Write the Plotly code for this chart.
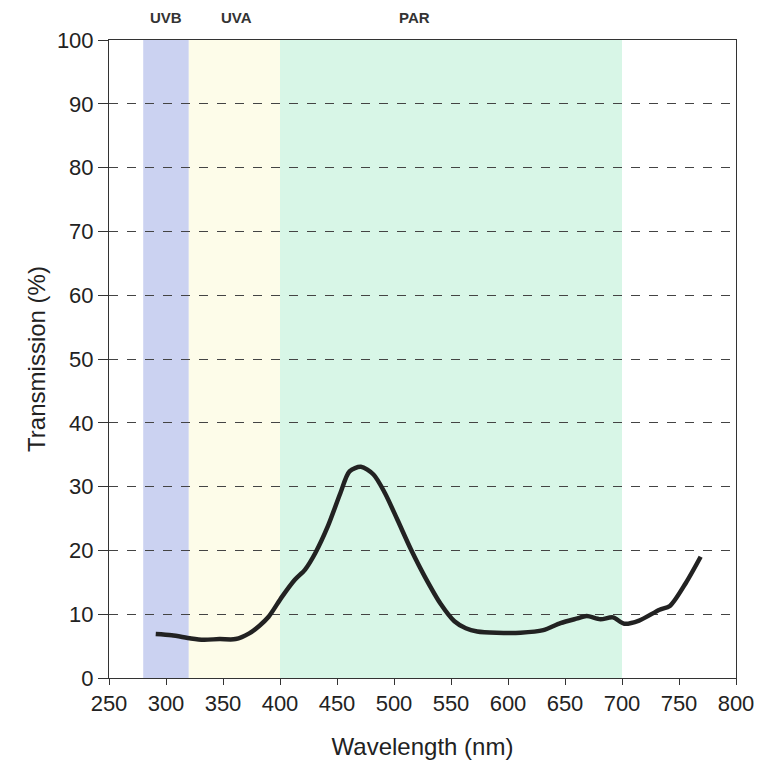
import plotly.graph_objects as go

wavelength = [291, 305, 322, 333, 347, 361, 373, 382, 390, 402, 413, 422, 431, 442, 453,
              461, 471, 482, 492, 503, 515, 527, 541, 553, 563, 573, 590, 611, 631, 646,
              660, 669, 681, 692, 702, 715, 733, 742, 756, 769]
transmission = [6.9, 6.7, 6.2, 6.0, 6.1, 6.1, 7.0, 8.2, 9.6, 12.8, 15.4, 17.0, 19.6, 23.8, 29.0,
                32.4, 33.1, 31.9, 29.0, 24.8, 20.1, 15.9, 11.6, 8.9, 7.8, 7.3, 7.1, 7.1, 7.5, 8.6,
                9.3, 9.7, 9.2, 9.5, 8.5, 9.0, 10.7, 11.3, 14.9, 19.0]

band_names = ["UVB", "UVA", "PAR"]
band_start = [280, 320, 400]
band_end = [320, 400, 700]
band_colors = ["rgba(200,208,240,0.95)", "rgba(253,252,232,0.95)", "rgba(214,245,230,0.95)"]
label_x = [300, 362, 518]

x_ticks = [250, 300, 350, 400, 450, 500, 550, 600, 650, 700, 750, 800]
y_ticks = [0, 10, 20, 30, 40, 50, 60, 70, 80, 90, 100]

fig = go.Figure()

for s, e, c in zip(band_start, band_end, band_colors):
    fig.add_vrect(x0=s, x1=e, y0=0, y1=1, fillcolor=c, line_width=0, layer="below")

for name, lx in zip(band_names, label_x):
    fig.add_annotation(x=lx, y=1.0, yref="paper", yanchor="middle", yshift=23,
                       text="<b>" + name + "</b>", showarrow=False,
                       font=dict(family="Liberation Sans, Arial", size=15, color="#333"))

fig.add_trace(go.Scatter(x=wavelength, y=transmission, mode="lines",
                         line=dict(color="#222222", width=4.5, shape="spline", smoothing=0.8),
                         showlegend=False))

fig.update_layout(
    width=766, height=767,
    margin=dict(l=109, r=27, t=40, b=89),
    paper_bgcolor="white", plot_bgcolor="white",
    font=dict(family="Liberation Sans, Arial", size=22, color="#222"),
)
fig.update_xaxes(range=[250, 800], tickvals=x_ticks, showgrid=False,
                 showline=True, linecolor="#333", linewidth=1, mirror=True,
                 ticks="outside", ticklen=6, tickcolor="#333",
                 title=dict(text="Wavelength (nm)", font=dict(size=24), standoff=22),
                 zeroline=False)
fig.update_yaxes(range=[0, 100], tickvals=y_ticks, showgrid=True, gridcolor="#444",
                 griddash="dash", gridwidth=1,
                 showline=True, linecolor="#333", linewidth=1, mirror=True,
                 ticks="outside", ticklen=10, tickcolor="#333",
                 title=dict(text="Transmission (%)", font=dict(size=24), standoff=4),
                 zeroline=False)

fig.write_html("out.html")
